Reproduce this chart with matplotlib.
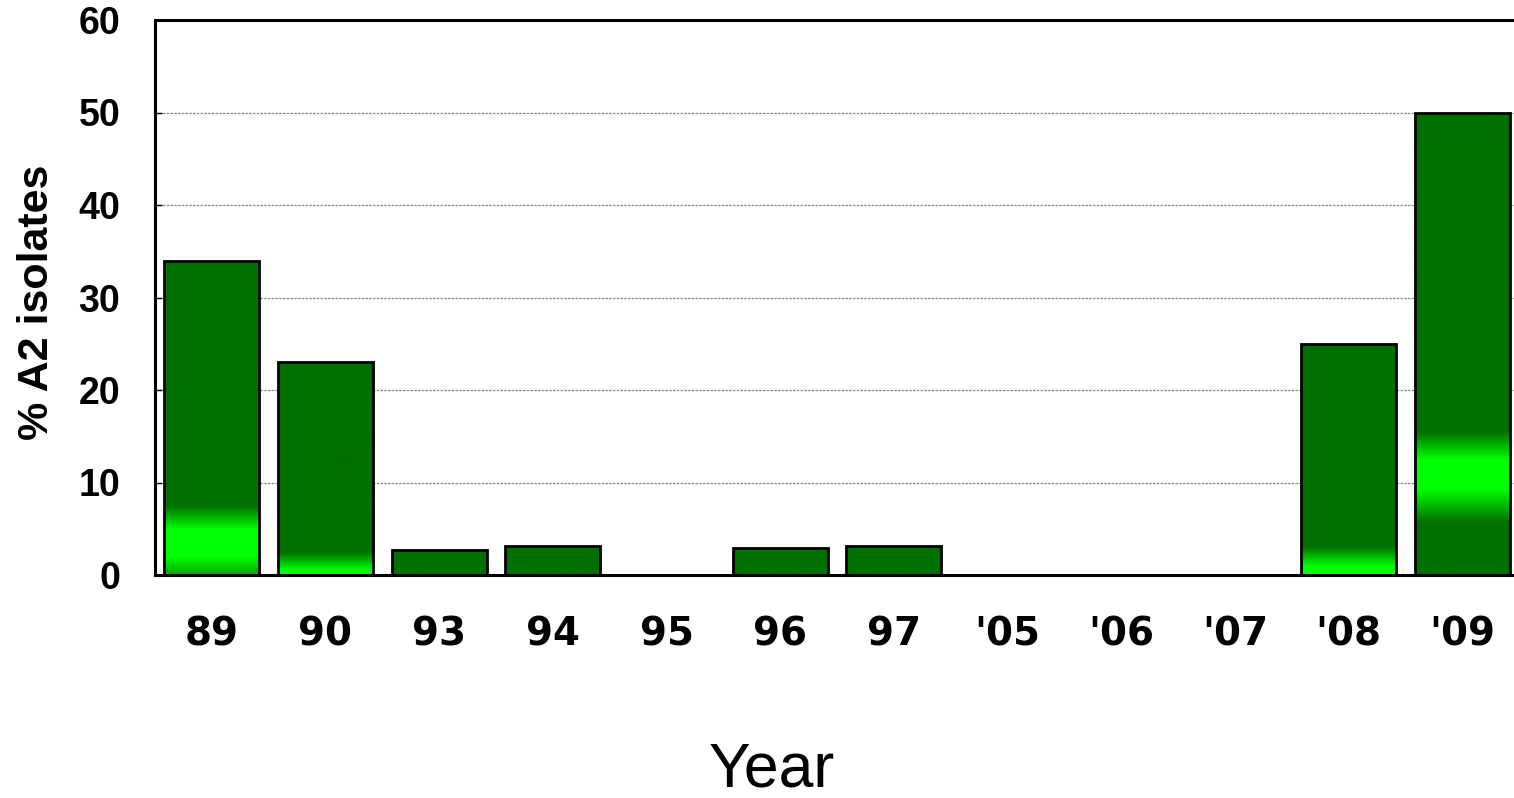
import numpy as np
import matplotlib
matplotlib.use("Agg")
import matplotlib.pyplot as plt
from matplotlib.colors import LinearSegmentedColormap
from matplotlib.patches import Rectangle

# Percentage of A2 mating-type isolates per sampling year
years = ["89", "90", "93", "94", "95", "96", "97", "'05", "'06", "'07", "'08", "'09"]
pct_a2 = [34, 23, 2.7, 3.1, 0, 2.9, 3.1, 0, 0, 0, 25, 50]

# Fill shading per bar: (level in % units, colour) stops from bottom to top
DARK = "#007000"
BRIGHT = "#00ff00"
MID = "#00a800"
shading = {
    "89": [(0, MID), (1.9, BRIGHT), (4.9, BRIGHT), (7.4, DARK)],
    "90": [(0, BRIGHT), (0.5, BRIGHT), (2.4, DARK)],
    "'08": [(0, BRIGHT), (0.9, BRIGHT), (3.0, DARK)],
    "'09": [(0, DARK), (5.6, DARK), (9.2, BRIGHT), (12.4, BRIGHT), (15.4, DARK)],
}

plt.rcParams["font.family"] = ["Liberation Sans", "DejaVu Sans"]

fig = plt.figure(figsize=(15.14, 7.98), dpi=100)
W, H = 1514, 798
left_px, right_px, top_px, bottom_px = 155, 1519, 20, 575
ax = fig.add_axes([left_px / W, (H - bottom_px) / H,
                   (right_px - left_px) / W, (bottom_px - top_px) / H])

x = np.arange(len(years))
width = 0.835

for xi, name, val in zip(x, years, pct_a2):
    if val <= 0:
        continue
    x0, x1 = xi - width / 2, xi + width / 2
    stops = shading.get(name, [(0, DARK)])
    pts = [(min(lv / val, 1.0), c) for lv, c in stops]
    if pts[-1][0] < 1.0:
        pts.append((1.0, pts[-1][1]))
    if len(pts) == 1:
        pts = [(0.0, pts[0][1]), (1.0, pts[0][1])]
    cmap = LinearSegmentedColormap.from_list("bar_" + name, pts)
    grad = np.linspace(0, 1, 256).reshape(-1, 1)
    img = ax.imshow(grad, cmap=cmap, origin="lower", aspect="auto",
                    extent=[x0, x1, 0, val], zorder=2, vmin=0, vmax=1,
                    interpolation="bilinear")
    rect = Rectangle((x0, 0), width, val, facecolor="none",
                     edgecolor="black", linewidth=2.0, zorder=3)
    ax.add_patch(rect)
    img.set_clip_path(rect)

ax.set_xlim(-0.5, len(years) - 0.5)
ax.set_ylim(0, 60)
ax.set_yticks(np.arange(0, 61, 10))
ax.set_xticks(x)
ax.set_xticklabels(years)

ax.yaxis.grid(True, color="#888888", linewidth=0.9, linestyle=(0, (2, 1)))
ax.set_axisbelow(True)

for s in ax.spines.values():
    s.set_linewidth(2.2)
    s.set_color("black")

ax.tick_params(axis="y", direction="in", length=5, width=1, pad=25,
               labelsize=27)
ax.tick_params(axis="x", length=0, pad=29)
for lab in ax.get_yticklabels():
    lab.set_fontweight("bold")
for lab in ax.get_xticklabels():
    lab.set_fontweight("bold")
    lab.set_fontfamily("DejaVu Sans")
    lab.set_fontsize(28)

fig.text(37 / W, 1 - 302 / H, "% A2 isolates", rotation=90, fontsize=31,
         fontweight="bold", ha="center", va="center")
fig.text(772 / W, 1 - 770 / H, "Year", fontsize=45, ha="center",
         va="center")

fig.savefig("out.png", dpi=100)
